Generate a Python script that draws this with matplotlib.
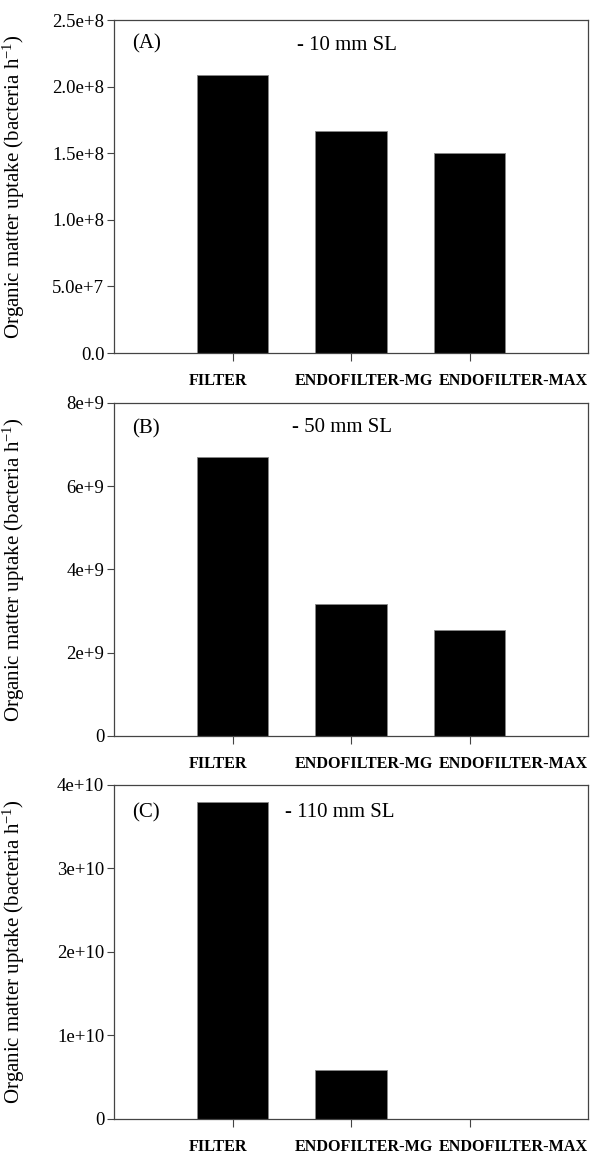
import matplotlib
matplotlib.use('Agg')
import matplotlib.pyplot as plt
import matplotlib.transforms as mtransforms
import numpy as np

plt.rcParams['font.family'] = ['Liberation Serif', 'DejaVu Serif']
plt.rcParams['mathtext.fontset'] = 'custom'
plt.rcParams['mathtext.rm'] = 'Liberation Serif'
plt.rcParams['mathtext.it'] = 'Liberation Serif:italic'

# data
categories = ['FILTER', 'ENDOFILTER-MG', 'ENDOFILTER-MAX']
uptake_10mm = [2.087e8, 1.667e8, 1.50e8]
uptake_50mm = [6.70e9, 3.18e9, 2.55e9]
uptake_110mm = [3.80e10, 0.59e10, 0.0]

panel_letters = ['(A)', '(B)', '(C)']
size_labels = ['- 10 mm SL', '- 50 mm SL', '- 110 mm SL']
y_max = [2.5e8, 8e9, 4e10]
y_ticks = [np.arange(0, 2.51e8, 0.5e8), np.arange(0, 8.1e9, 2e9), np.arange(0, 4.1e10, 1e10)]
y_ticklabels = [['0.0', '5.0e+7', '1.0e+8', '1.5e+8', '2.0e+8', '2.5e+8'],
                ['0', '2e+9', '4e+9', '6e+9', '8e+9'],
                ['0', '1e+10', '2e+10', '3e+10', '4e+10']]
series = [uptake_10mm, uptake_50mm, uptake_110mm]

fig = plt.figure(figsize=(5.92, 11.53), dpi=100)
# axes boxes in figure fractions [left, bottom, width, height]
boxes = [[0.1926, 0.6938, 0.8007, 0.2888],
         [0.1926, 0.3617, 0.8007, 0.2888],
         [0.1926, 0.0295, 0.8007, 0.2897]]
label_x = [0.038, 0.038, 0.038]
label_y = [0.93, 0.922, 0.916]
size_x = [0.386, 0.376, 0.361]
size_y = [0.925, 0.925, 0.919]
# category labels sit a bit off their ticks in the original (inches)
label_shift = [-0.14, 0.13, 0.44]

x = np.arange(len(categories))
for i in range(3):
    ax = fig.add_axes(boxes[i])
    ax.bar(x, series[i], width=0.6, color='black', edgecolor='#888888', linewidth=0.6)
    ax.set_xlim(-1, 3)
    ax.set_ylim(0, y_max[i])
    ax.set_xticks(x)
    ax.set_xticklabels([])
    base = mtransforms.blended_transform_factory(ax.transData, ax.transAxes)
    for xi, name, dx in zip(x, categories, label_shift):
        tr = base + mtransforms.ScaledTranslation(dx, -0.20, fig.dpi_scale_trans)
        ax.text(xi, 0, name, transform=tr, fontsize=11.6, fontweight='bold',
                ha='center', va='top')
    ax.set_yticks(y_ticks[i])
    ax.set_yticklabels(y_ticklabels[i], fontsize=13.5)
    ax.tick_params(axis='x', direction='out', length=6, width=0.8, color='#444444')
    ax.tick_params(axis='y', direction='out', length=5, width=0.8, pad=2, color='#444444')
    for s in ax.spines.values():
        s.set_color('#444444')
        s.set_linewidth(0.9)
    ax.set_ylabel('Organic matter uptake (bacteria h$^{-1}$)', fontsize=15)
    ax.yaxis.set_label_coords(-0.184, 0.5)
    ax.text(label_x[i], label_y[i], panel_letters[i], transform=ax.transAxes,
            fontsize=15, va='center', ha='left')
    ax.text(size_x[i], size_y[i], size_labels[i], transform=ax.transAxes,
            fontsize=15, va='center', ha='left')

fig.savefig('out.png', dpi=100)
